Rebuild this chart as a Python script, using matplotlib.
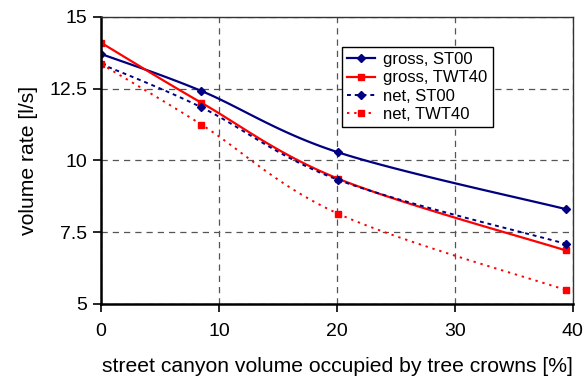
import numpy as np
import matplotlib.pyplot as plt

plt.rcParams['font.family'] = ['Liberation Sans', 'DejaVu Sans']

# share of street canyon volume taken by tree crowns [%]
occupancy = [0, 8.5, 20.1, 39.4]

gross_st00 = [13.71, 12.42, 10.28, 8.30]
gross_twt40 = [14.10, 12.01, 9.36, 6.86]
net_st00 = [13.36, 11.85, 9.32, 7.09]
net_twt40 = [13.36, 11.25, 8.14, 5.48]


def smooth(x, y, n=40):
    """Catmull-Rom curve through the points (spreadsheet-style smoothed line)."""
    p = np.column_stack([x, y]).astype(float)
    p = np.vstack([p[0], p, p[-1]])
    out = []
    for i in range(1, len(p) - 2):
        p0, p1, p2, p3 = p[i - 1], p[i], p[i + 1], p[i + 2]
        t = np.linspace(0, 1, n)[:, None]
        c1 = p1 + (p2 - p0) / 6
        c2 = p2 - (p3 - p1) / 6
        seg = ((1 - t) ** 3) * p1 + 3 * ((1 - t) ** 2) * t * c1 \
            + 3 * (1 - t) * t ** 2 * c2 + t ** 3 * p2
        out.append(seg if i == 1 else seg[1:])
    seg = np.vstack(out)
    return seg[:, 0], seg[:, 1]


navy = '#000080'
red = '#ff0000'

fig, ax = plt.subplots(figsize=(5.84, 3.76), dpi=100)
fig.subplots_adjust(left=0.173, right=0.981, top=0.955, bottom=0.192)

series = [
    (gross_st00, 'gross, ST00', navy, '-', 'D', 1.6, 4.5),
    (gross_twt40, 'gross, TWT40', red, '-', 's', 1.6, 4.5),
    (net_st00, 'net, ST00', navy, (0, (2, 2)), 'D', 1.4, 4.5),
    (net_twt40, 'net, TWT40', red, (0, (1.2, 2.5)), 's', 1.4, 4.5),
]
for y, label, color, ls, marker, lw, ms in series:
    sx, sy = smooth(occupancy, y)
    ax.plot(sx, sy, color=color, linestyle=ls, linewidth=lw)
    ax.plot(occupancy, y, linestyle='none', marker=marker, color=color,
            markersize=ms)
    ax.plot([], [], color=color, linestyle=ls, linewidth=lw, marker=marker,
            markersize=ms, label=label)

ax.set_xlim(0, 40)
ax.set_ylim(5, 15)
ax.set_xticks([0, 10, 20, 30, 40])
ax.set_yticks([5, 7.5, 10, 12.5, 15])
ax.set_yticklabels(['5', '7.5', '10', '12.5', '15'])
ax.grid(True, color='#555555', linestyle=(0, (5, 4)), linewidth=0.9)
ax.tick_params(direction='out', length=6, width=1.2, labelsize=14,
               colors='black', pad=4)
ax.tick_params(axis='x', pad=8)

for side in ['left', 'bottom']:
    ax.spines[side].set_linewidth(1.8)
for side in ['top', 'right']:
    ax.spines[side].set_linewidth(1.0)
    ax.spines[side].set_color('#333333')

ax.set_xlabel('street canyon volume occupied by tree crowns [%]',
              fontsize=15.2, labelpad=12)
ax.set_ylabel('volume rate [l/s]', fontsize=15.2, labelpad=8)

leg = ax.legend(loc='upper left', bbox_to_anchor=(0.51, 0.895),
                fontsize=12, frameon=True, fancybox=False,
                edgecolor='black', framealpha=1, borderpad=0.3,
                labelspacing=0.2, handlelength=1.7, handletextpad=0.5,
                borderaxespad=0)
leg.get_frame().set_linewidth(1.0)

fig.savefig('out.png', dpi=100)
